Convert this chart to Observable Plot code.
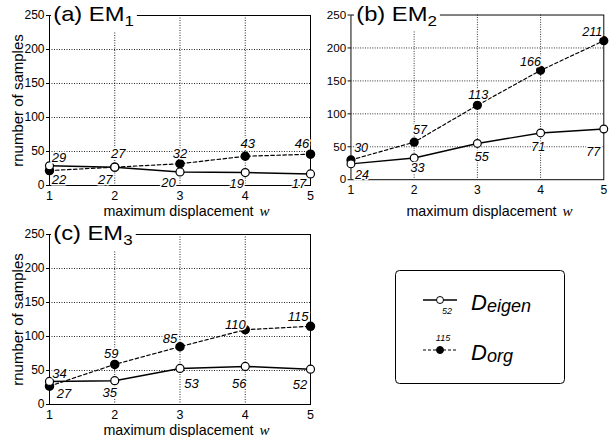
<!DOCTYPE html>
<html>
<head>
<meta charset="utf-8">
<script src="https://cdn.jsdelivr.net/npm/d3@7"></script>
<script src="https://cdn.jsdelivr.net/npm/@observablehq/plot@0.6"></script>
<style>
  html, body { margin: 0; padding: 0; background: white; }
  #root { position: relative; width: 613px; height: 437px; overflow: hidden; background: white;
          font-family: "Liberation Sans", Arial, Helvetica, sans-serif; }
  .panel { position: absolute; }
  .panel svg text { paint-order: stroke; }
  .title { position: absolute; background: white; font-size: 21px; line-height: 26px; height: 30px;
           padding: 0 3px 0 2px; transform-origin: left top; transform: scaleX(1.13); white-space: nowrap; }
  .title sub { font-size: 15px; vertical-align: -5px; line-height: 0; }
  .xlab { position: absolute; width: 261px; text-align: center; font-size: 14.3px; line-height: 16px; white-space: nowrap; }
  .xlab i { font-family: "Liberation Serif", "Times New Roman", serif; font-size: 15px; margin-left: 6px; }
  #legend { position: absolute; left: 395px; top: 270px; }
</style>
</head>
<body>
<div id="root"></div>
<script>
// ---- data ----
const w = [1, 2, 3, 4, 5];
const xTicks = [1, 2, 3, 4, 5];
const yTicks = [0, 50, 100, 150, 200, 250];
const em1Eigen = [29, 27, 20, 19, 17];
const em1Org   = [22, 27, 32, 43, 46];
const em2Eigen = [24, 33, 55, 71, 77];
const em2Org   = [30, 57, 113, 166, 211];
const em3Eigen = [34, 35, 53, 56, 52];
const em3Org   = [27, 59, 85, 110, 115];
const panelNames = ["(a) EM", "(b) EM", "(c) EM"];
const panelSubs = ["1", "2", "3"];
const yLabel = "rnumber of samples";
const xLabel = "maximum displacement";
const xVar = "w";
const seriesNames = ["eigen", "org"];
const legendSample = ["52", "115"];

// ---- label placement (pixel offsets, styling only) ----
const offA = {eigen: [[9.5,-8],[-9.5,13],[-11.5,11],[-8.5,11],[-11.5,10]],
              org:   [[9.5,9],[3.5,-13],[0,-10],[2.5,-12],[-8.5,-10]]};
const offB = {eigen: [[11.5,11],[3.5,10],[4.5,14],[-2.5,15],[-11,24]],
              org:   [[10.5,-12],[6,-13],[1,-11],[-10.5,-9],[-12,-9]]};
const offC = {eigen: [[10,-8],[-5,12],[11.5,15],[-6,17],[-10.5,16]],
              org:   [[14.5,8],[-3.5,-11],[-10,-8],[-10,-5],[-12.5,-9]]};

function panel(eigen, org, off, withYLabel) {
  const rows = w.map((x, i) => ({w: x, eigen: eigen[i], org: org[i]}));
  const labels = [];
  rows.forEach((r, i) => {
    labels.push(Plot.text([r], {x: "w", y: "eigen", text: d => String(d.eigen),
      dx: off.eigen[i][0], dy: off.eigen[i][1], fontStyle: "italic", fontSize: 13,
      fill: "black", stroke: "white", strokeWidth: 3}));
    labels.push(Plot.text([r], {x: "w", y: "org", text: d => String(d.org),
      dx: off.org[i][0], dy: off.org[i][1], fontStyle: "italic", fontSize: 13,
      fill: "black", stroke: "white", strokeWidth: 3}));
  });
  const marks = [
    Plot.gridX([2, 3, 4], {stroke: "black", strokeOpacity: 0.85, strokeDasharray: "1,1.5"}),
    Plot.gridY([50, 100, 150, 200], {stroke: "black", strokeOpacity: 0.85, strokeDasharray: "1,1.5"}),
    Plot.frame({stroke: "black"}),
    Plot.axisX(xTicks, {tickSize: 0, tickPadding: 6, label: null, fontSize: 12.5}),
    Plot.axisY(yTicks, {tickSize: 3, tickPadding: 2, label: null, fontSize: 12}),
    Plot.line(rows, {x: "w", y: "org", stroke: "black", strokeWidth: 1.2, strokeDasharray: "3.5,2.5"}),
    Plot.line(rows, {x: "w", y: "eigen", stroke: "black", strokeWidth: 1.5}),
    Plot.dot(rows, {x: "w", y: "org", r: 4, fill: "black", stroke: "black"}),
    Plot.dot(rows, {x: "w", y: "eigen", r: 4, fill: "white", stroke: "black", strokeWidth: 1.2}),
    ...labels
  ];
  if (withYLabel) {
    marks.push(Plot.text([yLabel], {frameAnchor: "left", textAnchor: "middle", lineAnchor: "middle",
      dx: -31, rotate: -90, fontSize: 15, fill: "black"}));
  }
  return Plot.plot({
    width: 320, height: 220,
    marginLeft: 49, marginRight: 10, marginTop: 15, marginBottom: 35,
    style: {background: "transparent", fontFamily: '"Liberation Sans", Arial, Helvetica, sans-serif', overflow: "visible", color: "black"},
    x: {domain: [1, 5]},
    y: {domain: [0, 250]},
    marks
  });
}

const root = document.getElementById("root");
const specs = [
  {e: em1Eigen, o: em1Org, off: offA, left: 0, top: 0, yl: true},
  {e: em2Eigen, o: em2Org, off: offB, left: 303, top: 0, yl: false},
  {e: em3Eigen, o: em3Org, off: offC, left: 0, top: 219, yl: true}
];
specs.forEach((s, k) => {
  const div = document.createElement("div");
  div.className = "panel";
  div.style.left = s.left + "px";
  div.style.top = s.top + "px";
  div.appendChild(panel(s.e, s.o, s.off, s.yl));
  root.appendChild(div);

  const t = document.createElement("div");
  t.className = "title";
  t.style.left = (s.left + 51) + "px";
  t.style.top = (s.top + 1) + "px";
  t.innerHTML = panelNames[k] + "<sub>" + panelSubs[k] + "</sub>";
  root.appendChild(t);

  const xl = document.createElement("div");
  xl.className = "xlab";
  xl.style.left = (s.left + 56) + "px";
  xl.style.top = (s.top + 203) + "px";
  xl.innerHTML = xLabel + "<i>" + xVar + "</i>";
  root.appendChild(xl);
});

// ---- legend ----
const lg = d3.select(root).append("svg").attr("id", "legend").attr("width", 172).attr("height", 116)
  .style("font-family", '"Liberation Sans", Arial, Helvetica, sans-serif');
lg.append("rect").attr("x", 0.5).attr("y", 0.5).attr("width", 169).attr("height", 113)
  .attr("rx", 4).attr("fill", "white").attr("stroke", "black");
const entries = [
  {y: 30, dash: null, fill: "white", sw: 1.5, numY: 42, numX: 52},
  {y: 80, dash: "3,2", fill: "black", sw: 1.2, numY: 69, numX: 48}
];
entries.forEach((e, i) => {
  const ln = lg.append("line").attr("x1", 28).attr("x2", 62).attr("y1", e.y).attr("y2", e.y)
    .attr("stroke", "black").attr("stroke-width", e.sw);
  if (e.dash) ln.attr("stroke-dasharray", e.dash);
  lg.append("circle").attr("cx", 45).attr("cy", e.y).attr("r", 3.5).attr("fill", e.fill).attr("stroke", "black");
  lg.append("text").attr("x", e.numX).attr("y", e.numY).attr("text-anchor", "middle").attr("dominant-baseline", "middle")
    .attr("font-size", 9).attr("font-style", "italic").text(legendSample[i]);
  const tx = lg.append("text").attr("x", 76).attr("y", e.y + 10).attr("font-style", "italic");
  tx.append("tspan").attr("font-size", 22).text("D");
  tx.append("tspan").attr("font-size", 18).attr("dy", 2).text(seriesNames[i]);
});
</script>
</body>
</html>
